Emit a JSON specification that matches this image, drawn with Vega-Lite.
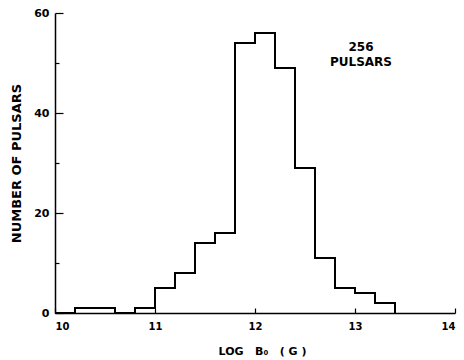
{
  "$schema": "https://vega.github.io/schema/vega-lite/v6.json",
  "width": 400,
  "height": 300,
  "autosize": "none",
  "padding": {"left": 55, "top": 13, "right": 9, "bottom": 47},
  "background": "white",
  "config": {
    "view": {"stroke": null},
    "axis": {"grid": false, "domainColor": "black", "tickColor": "black", "labelColor": "black", "titleColor": "black", "labelFont": "DejaVu Sans", "titleFont": "DejaVu Sans", "labelFontWeight": "bold", "titleFontWeight": "bold", "domainWidth": 1.5, "tickWidth": 1.2}
  },
  "layer": [
    {
      "data": {"values": [
        {"logB": 10.0, "count": 0},
        {"logB": 10.2, "count": 1},
        {"logB": 10.4, "count": 1},
        {"logB": 10.6, "count": 0},
        {"logB": 10.8, "count": 1},
        {"logB": 11.0, "count": 5},
        {"logB": 11.2, "count": 8},
        {"logB": 11.4, "count": 14},
        {"logB": 11.6, "count": 16},
        {"logB": 11.8, "count": 54},
        {"logB": 12.0, "count": 56},
        {"logB": 12.2, "count": 49},
        {"logB": 12.4, "count": 29},
        {"logB": 12.6, "count": 11},
        {"logB": 12.8, "count": 5},
        {"logB": 13.0, "count": 4},
        {"logB": 13.2, "count": 2},
        {"logB": 13.4, "count": 0}
      ]},
      "mark": {"type": "line", "interpolate": "step-after", "color": "black", "strokeWidth": 2},
      "encoding": {
        "x": {"field": "logB", "type": "quantitative", "scale": {"domain": [10, 14], "nice": false, "zero": false},
          "axis": {"values": [10, 11, 12, 13, 14], "format": "d", "tickSize": -5, "labelPadding": 13, "labelFontSize": 10, "title": "LOG\u00a0\u00a0\u00a0B\u2080\u00a0\u00a0\u00a0(\u00a0G\u00a0)", "titleFontSize": 11, "titlePadding": 14, "titleX": 207}},
        "y": {"field": "count", "type": "quantitative", "scale": {"domain": [0, 60], "nice": false},
          "axis": {"values": [0, 10, 20, 30, 40, 50, 60], "labelExpr": "datum.value % 20 === 0 ? datum.label : ''",
            "tickSize": {"condition": {"test": "datum.value % 20 === 0", "value": -8}, "value": -4},
            "labelPadding": 14, "labelFontSize": 11, "title": "NUMBER OF PULSARS", "titleFontSize": 13, "titlePadding": 10}}
      }
    },
    {
      "data": {"values": [{"x": 13.06, "y": 53.3, "label": "256\nPULSARS"}]},
      "mark": {"type": "text", "lineBreak": "\n", "font": "DejaVu Sans", "fontWeight": "bold", "fontSize": 12, "lineHeight": 15, "color": "black"},
      "encoding": {
        "x": {"field": "x", "type": "quantitative"},
        "y": {"field": "y", "type": "quantitative"},
        "text": {"field": "label"}
      }
    }
  ]
}
